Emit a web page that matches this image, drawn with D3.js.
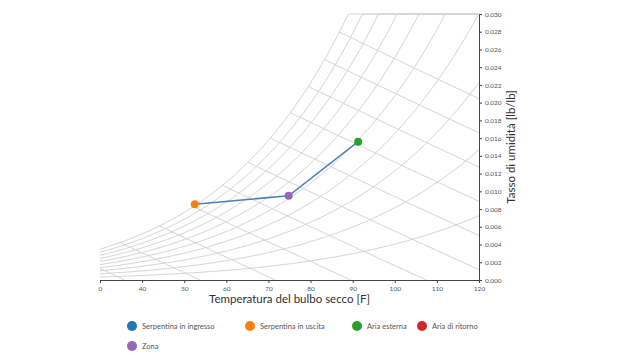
<!DOCTYPE html>
<html>
<head>
<meta charset="utf-8">
<script src="https://cdn.jsdelivr.net/npm/d3@7"></script>
<style>
  body { margin: 0; background: #fff; }
  svg { display: block; font-family: Lato, "Noto Sans", sans-serif; }
</style>
</head>
<body>
<div id="chart"></div>
<script>
"use strict";

// Points of the process (null = not shown on the chart)
var seriesNames = ["Serpentina in ingresso", "Serpentina in uscita", "Aria esterna", "Aria di ritorno", "Zona"];
var seriesColors = ["#1f77b4", "#ff7f0e", "#2ca02c", "#d62728", "#9467bd"];
var dryBulb = [null, 52.5, 91.3, null, 74.8];
var humRatio = [null, 0.00855, 0.0156, null, 0.0095];
var pathOrder = ["Aria esterna", "Zona", "Serpentina in uscita"];

// Chart grid
var xTicks = [30, 40, 50, 60, 70, 80, 90, 100, 110, 120];
var xTickLabels = ["0", "40", "50", "60", "70", "80", "90", "100", "110", "120"];
var rhLevels = [0.1, 0.2, 0.3, 0.4, 0.5, 0.6, 0.7, 0.8, 0.9, 1.0];
var enthalpyKJ = [20, 30, 40, 50, 60, 70, 80, 90, 100, 110, 120];

var W = 622, H = 360;
var margin = {top: 14, right: 143, bottom: 80, left: 100};
var width = W - margin.left - margin.right,
	height = H - margin.top - margin.bottom;

var P = 14.696; // psia
var tMin = 30, tMax = 120, wMax = 0.030;

function pSat(tf) {
	var t = tf + 459.67;
	return Math.exp(-1.0440397e4 / t - 1.1294650e1 - 2.7022355e-2 * t + 1.2890360e-5 * t * t
		- 2.4780681e-9 * t * t * t + 6.5459673 * Math.log(t));
}
function wFromRh(tf, rh) {
	var pw = rh * pSat(tf);
	return 0.621945 * pw / (P - pw);
}
function wFromH(tf, h) {
	return (h - 0.240 * tf) / (1061 + 0.444 * tf);
}
function hSat(tf) {
	var w = wFromRh(tf, 1);
	return 0.240 * tf + w * (1061 + 0.444 * tf);
}

var x = d3.scaleLinear().domain([tMin, tMax]).range([0, width]);
var y = d3.scaleLinear().domain([0, wMax]).range([height, 0]);

var svg = d3.select("#chart").append("svg")
	.attr("width", W)
	.attr("height", H);
var g = svg.append("g")
	.attr("transform", "translate(" + margin.left + "," + margin.top + ")");

var line = d3.line()
	.x(function(d) { return x(d[0]); })
	.y(function(d) { return y(Math.max(0, Math.min(wMax, d[1]))); });

var grid = g.append("g").attr("class", "grid")
	.attr("fill", "none")
	.attr("stroke", "#d4d4d4")
	.attr("stroke-width", 1);

// relative humidity curves
var temps = d3.range(tMin, tMax + 0.001, 0.5);
rhLevels.forEach(function(rh) {
	grid.append("path")
		.attr("d", line(temps.map(function(t) { return [t, wFromRh(t, rh)]; })));
});

// enthalpy lines (kJ/kg converted to Btu/lb)
enthalpyKJ.forEach(function(hk) {
	var h = hk / 2.326;
	// start on the saturation curve
	var lo = tMin - 40, hi = tMax;
	for (var i = 0; i < 60; i++) {
		var mid = (lo + hi) / 2;
		if (hSat(mid) < h) lo = mid; else hi = mid;
	}
	var t0 = Math.max(tMin, lo);
	var t1 = Math.min(tMax, h / 0.240);
	if (t1 <= t0) return;
	var pts = d3.range(t0, t1, 0.5).concat([t1]).map(function(t) { return [t, wFromH(t, h)]; });
	grid.append("path").attr("d", line(pts));
});

// axes
var xAxis = g.append("g")
	.attr("transform", "translate(0," + height + ")")
	.call(d3.axisBottom(x).tickValues(xTicks).tickSize(3)
		.tickFormat(function(d, i) { return xTickLabels[i]; }));
var yAxis = g.append("g")
	.attr("transform", "translate(" + width + ",0)")
	.call(d3.axisRight(y).tickValues(d3.range(0, 16).map(function(i) { return i * 0.002; }))
		.tickSize(3).tickFormat(d3.format(".3f")));

[xAxis, yAxis].forEach(function(a) {
	a.selectAll("path, line").attr("stroke", "#444");
	a.selectAll("text").attr("fill", "#555").style("font-size", "6.5px")
		.style("font-family", "Lato, sans-serif");
});

svg.append("text")
	.attr("x", margin.left + width / 2)
	.attr("y", 303)
	.attr("text-anchor", "middle")
	.attr("fill", "#333")
	.style("font-size", "11.5px")
	.text("Temperatura del bulbo secco [F]");

svg.append("text")
	.attr("transform", "translate(515," + (margin.top + height / 2) + ") rotate(-90)")
	.attr("text-anchor", "middle")
	.attr("fill", "#333")
	.style("font-size", "11.5px")
	.text("Tasso di umidità [lb/lb]");

// process path and points
var points = seriesNames.map(function(n, i) {
	return {name: n, color: seriesColors[i], t: dryBulb[i], w: humRatio[i]};
}).filter(function(d) { return d.t !== null; });

var pathPts = pathOrder.map(function(n) {
	var i = seriesNames.indexOf(n);
	return [dryBulb[i], humRatio[i]];
});
g.append("path")
	.attr("d", line(pathPts))
	.attr("fill", "none")
	.attr("stroke", "#4a7fba")
	.attr("stroke-width", 1.5);

g.selectAll("circle.pt").data(points).enter().append("circle")
	.attr("class", "pt")
	.attr("cx", function(d) { return x(d.t); })
	.attr("cy", function(d) { return y(d.w); })
	.attr("r", 4)
	.attr("fill", function(d) { return d.color; });

// legend
var legendCols = [132, 250, 357, 422];
var legend = svg.append("g");
seriesNames.forEach(function(n, i) {
	var lx = legendCols[i % 4], ly = 326 + Math.floor(i / 4) * 20;
	legend.append("circle").attr("cx", lx).attr("cy", ly).attr("r", 5).attr("fill", seriesColors[i]);
	legend.append("text").attr("x", lx + 10).attr("y", ly).attr("dy", "0.35em")
		.attr("fill", "#555").style("font-size", "7.5px").text(n);
});
</script>
</body>
</html>
